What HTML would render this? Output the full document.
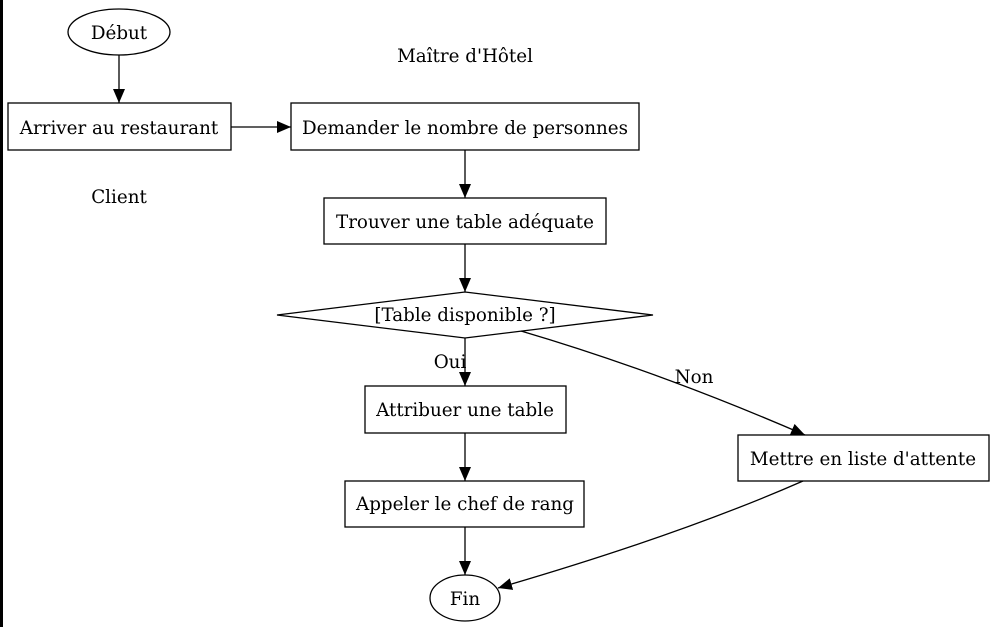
<!DOCTYPE html>
<html><head><meta charset="utf-8"><style>
html,body{margin:0;padding:0;background:#fff;}
svg{display:block;}
text{font-family:"DejaVu Serif","Liberation Serif",serif;font-size:18.3px;fill:#000;}
</style></head><body>
<svg width="995" height="627" viewBox="0 0 995 627" xmlns="http://www.w3.org/2000/svg">
<defs><marker id="b" markerWidth="14" markerHeight="12" refX="14" refY="6" orient="auto" markerUnits="userSpaceOnUse"><path d="M0,0 L14,6 L0,12 z" fill="#000"/></marker></defs>
<rect x="0" y="0" width="3" height="627" fill="#000"/>
<g fill="none" stroke="#000" stroke-width="1.3">
<ellipse cx="119" cy="32" rx="51" ry="23"/>
<rect x="8" y="103" width="223" height="47"/>
<rect x="291" y="103" width="348" height="47"/>
<rect x="324" y="198" width="282" height="46"/>
<polygon points="465,292 653,315 465,338 277,315"/>
<rect x="365" y="386" width="201" height="47"/>
<rect x="345" y="481" width="239" height="46"/>
<rect x="738" y="435" width="251" height="46"/>
<ellipse cx="465" cy="598" rx="35" ry="23"/>
<line x1="119" y1="55" x2="119" y2="103" marker-end="url(#b)"/>
<line x1="231" y1="127" x2="291" y2="127" marker-end="url(#b)"/>
<line x1="465" y1="150" x2="465" y2="198" marker-end="url(#b)"/>
<line x1="465" y1="244" x2="465" y2="292" marker-end="url(#b)"/>
<line x1="465" y1="338" x2="465" y2="386" marker-end="url(#b)"/>
<line x1="465" y1="433" x2="465" y2="481" marker-end="url(#b)"/>
<line x1="465" y1="527" x2="465" y2="575" marker-end="url(#b)"/>
<path d="M521,331 Q660,372 805,435" marker-end="url(#b)"/>
<path d="M803,481 Q680,535 498,588" marker-end="url(#b)"/>
</g>
<g text-anchor="middle">
<text x="119" y="39">Début</text>
<text x="465" y="62">Maître d'Hôtel</text>
<text x="119" y="134">Arriver au restaurant</text>
<text x="465" y="134">Demander le nombre de personnes</text>
<text x="119" y="203">Client</text>
<text x="465" y="228">Trouver une table adéquate</text>
<text x="465" y="321">[Table disponible ?]</text>
<text x="450" y="368">Oui</text>
<text x="694" y="383">Non</text>
<text x="465" y="416">Attribuer une table</text>
<text x="465" y="510">Appeler le chef de rang</text>
<text x="863" y="465">Mettre en liste d'attente</text>
<text x="465" y="605">Fin</text>
</g>
</svg>
</body></html>
